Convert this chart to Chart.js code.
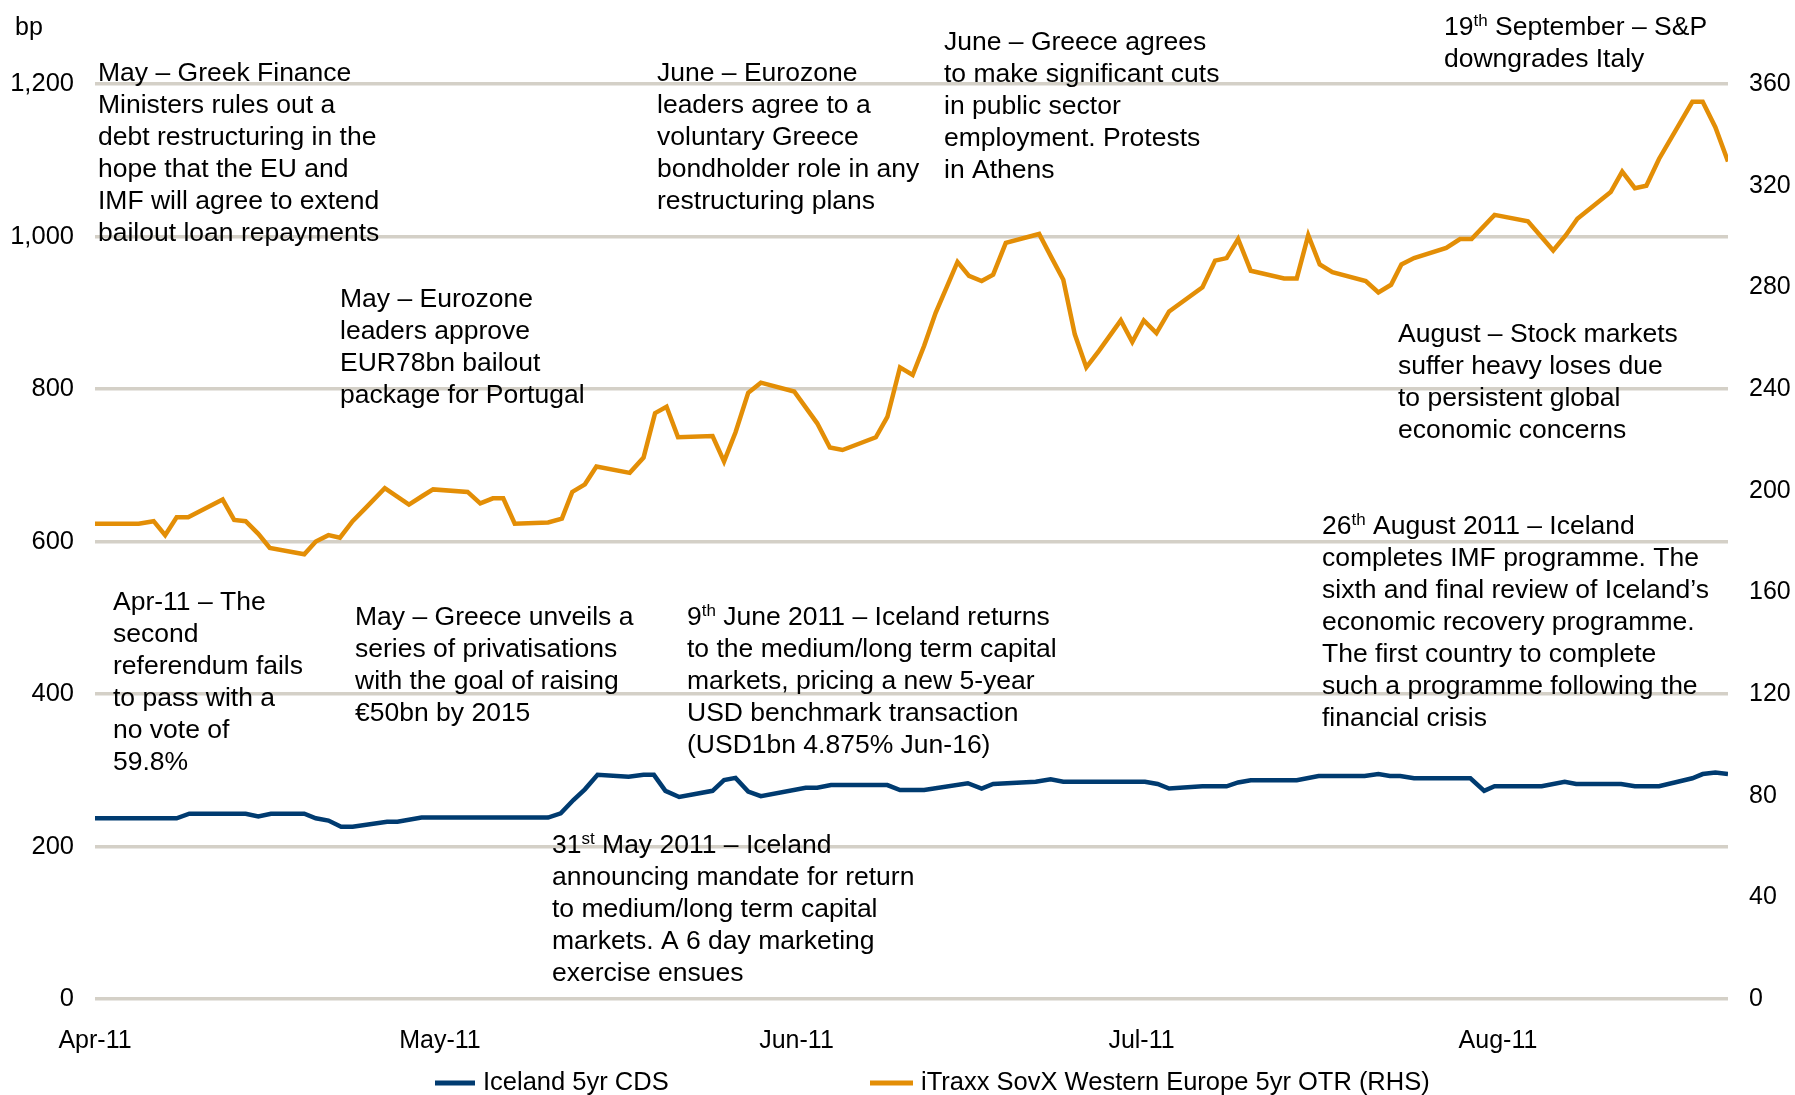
<!DOCTYPE html>
<html>
<head>
<meta charset="utf-8">
<title>Iceland 5yr CDS vs iTraxx SovX Western Europe</title>
<script src="https://cdn.jsdelivr.net/npm/chart.js@4.4.1/dist/chart.umd.min.js"></script>
<style>
  html, body { margin: 0; padding: 0; background: #fff; }
  #wrap { width: 1795px; height: 1095px; }
</style>
</head>
<body>
<div id="wrap"><canvas id="chart" width="1795" height="1095"></canvas></div>
<script>
// x values are days since 1 Apr 2011
const monthTicks = [0, 30, 61, 91, 122];
const monthLabels = ['Apr-11', 'May-11', 'Jun-11', 'Jul-11', 'Aug-11'];

// Iceland 5yr CDS (bp, left axis)
const icelandDays = [0, 7.1, 8.2, 13.1, 14.2, 15.3, 18.2, 19.2, 20.3, 21.4, 22.4, 25.4, 26.3, 28.4,
  39.4, 40.5, 41.6, 42.6, 43.7, 46.4, 47.7, 48.6, 49.6, 50.8, 53.7, 54.7, 55.7, 56.8, 57.9,
  61.8, 62.8, 64.0, 68.9, 70.0, 72.1, 75.9, 77.1, 78.1, 81.8, 83.1, 84.2, 91.3, 92.4, 93.4,
  96.3, 98.4, 99.4, 100.5, 104.5, 106.4, 110.4, 111.6, 112.6, 113.5, 114.7, 119.6, 120.8,
  121.7, 125.8, 127.8, 128.8, 132.7, 133.9, 136.0, 138.9, 139.8, 140.9, 142.0];
const icelandCds = [237, 237, 243, 243, 239.5, 243, 243, 237, 234, 226, 226, 232.5, 232.5, 238,
  238, 243.5, 261, 275, 294, 291.5, 294, 294, 273, 265, 273, 287, 290, 272, 266,
  277, 277, 280.5, 280.5, 274, 274, 283, 276, 282, 285, 288, 285, 285, 282, 276,
  279, 279, 284, 287, 287, 292.5, 292.5, 295, 292.5, 292.5, 289.5, 289.5, 273,
  279, 279, 285, 282, 282, 279, 279, 289.5, 295, 297, 295];

// iTraxx SovX Western Europe 5yr OTR (bp, right axis)
const sovxDays = [0, 3.8, 5.1, 6.1, 7.1, 8.1, 11.1, 12.1, 13.1, 14.2, 15.2, 18.2, 19.2, 20.3, 21.3,
  22.4, 23.5, 25.2, 27.3, 28.5, 29.4, 32.4, 33.5, 34.6, 35.5, 36.5, 39.4, 40.6, 41.5, 42.6,
  43.6, 46.5, 47.7, 48.7, 49.7, 50.7, 53.7, 54.7, 55.7, 56.8, 57.9, 60.8, 62.8, 63.9, 65.0,
  67.9, 68.9, 70.0, 71.1, 72.1, 73.1, 74.1, 75.0, 76.0, 77.1, 78.1, 79.2, 82.1, 83.2, 84.2,
  85.2, 86.2, 87.3, 89.2, 90.2, 91.2, 92.3, 93.4, 96.3, 97.4, 98.4, 99.4, 100.5, 103.4,
  104.5, 105.5, 106.5, 107.6, 110.5, 111.6, 112.7, 113.6, 114.7, 117.5, 118.7, 119.7, 121.7,
  124.6, 126.8, 127.9, 128.9, 131.8, 132.8, 133.9, 134.9, 136.0, 138.9, 139.8, 140.9, 142.0];
const sovxSpread = [187, 187, 188, 182.5, 189.5, 189.5, 196.5, 188.5, 188, 183, 177.5, 175, 180, 182.5, 181.5,
  188, 193, 201, 194.5, 198, 200.5, 199.5, 195, 197, 197, 187, 187.5, 189, 199.5, 202.5,
  209.5, 207, 213, 230.5, 233, 221, 221.5, 211.5, 223, 238.5, 242.5, 239, 226.5, 217, 216,
  221, 229, 248.5, 245.5, 257, 270, 280.5, 290, 284.5, 282.5, 285, 297.5, 301, 291.5, 283,
  261.5, 248.5, 255, 267, 258.5, 267, 262, 270.5, 280, 290.5, 291.5, 299, 286.5, 283.5,
  283.5, 300.5, 289, 286, 282.5, 278, 281, 289, 291.5, 295.5, 299, 299, 308.5,
  306, 294.5, 300.5, 307, 317.5, 325.5, 319, 320, 330.5, 353, 353, 343, 329.5];

const BLUE = '#003B70';
const ORANGE = '#E38E06';
const GRID = '#D4D0C7';
const FONT = "'Liberation Sans', Arial, sans-serif";

// event notes, ^{..} marks a superscript
const notes = [
  { x: 98, y: 74, lines: ['May – Greek Finance', 'Ministers rules out a', 'debt restructuring in the',
    'hope that the EU and', 'IMF will agree to extend', 'bailout loan repayments'] },
  { x: 340, y: 300, lines: ['May – Eurozone', 'leaders approve', 'EUR78bn bailout', 'package for Portugal'] },
  { x: 657, y: 74, lines: ['June – Eurozone', 'leaders agree to a', 'voluntary Greece',
    'bondholder role in any', 'restructuring plans'] },
  { x: 944, y: 43, lines: ['June – Greece agrees', 'to make significant cuts', 'in public sector',
    'employment. Protests', 'in Athens'] },
  { x: 1444, y: 28, lines: ['19^{th} September – S&P', 'downgrades Italy'] },
  { x: 1398, y: 335, lines: ['August – Stock markets', 'suffer heavy loses due', 'to persistent global',
    'economic concerns'] },
  { x: 1322, y: 527, lines: ['26^{th} August 2011 – Iceland', 'completes IMF programme. The',
    'sixth and final review of Iceland’s', 'economic recovery programme.', 'The first country to complete',
    'such a programme following the', 'financial crisis'] },
  { x: 113, y: 603, lines: ['Apr-11 – The', 'second', 'referendum fails', 'to pass with a', 'no vote of', '59.8%'] },
  { x: 355, y: 618, lines: ['May – Greece unveils a', 'series of privatisations', 'with the goal of raising',
    '€50bn by 2015'] },
  { x: 687, y: 618, lines: ['9^{th} June 2011 – Iceland returns', 'to the medium/long term capital',
    'markets, pricing a new 5-year', 'USD benchmark transaction', '(USD1bn 4.875% Jun-16)'] },
  { x: 552, y: 846, lines: ['31^{st} May 2011 – Iceland', 'announcing mandate for return',
    'to medium/long term capital', 'markets. A 6 day marketing', 'exercise ensues'] }
];

function toPoints(xs, ys) {
  return xs.map((x, i) => ({ x: x, y: ys[i] }));
}

function drawRichLine(ctx, text, x, y) {
  const parts = text.split(/\^\{([^}]*)\}/);
  let cx = x;
  parts.forEach((p, i) => {
    if (i % 2) {
      ctx.font = '17px ' + FONT;
      ctx.fillText(p, cx, y - 7);
    } else {
      ctx.font = '26.5px ' + FONT;
      ctx.fillText(p, cx, y);
    }
    cx += ctx.measureText(p).width;
  });
}

// Draws the notes, the "bp" unit label and the legend
const overlayPlugin = {
  id: 'overlay',
  afterDraw(chart) {
    const ctx = chart.ctx;
    ctx.save();
    ctx.fillStyle = '#000';
    ctx.textAlign = 'left';
    ctx.textBaseline = 'middle';

    notes.forEach(n => {
      n.lines.forEach((line, i) => drawRichLine(ctx, line, n.x, n.y + i * 32));
    });

    ctx.font = '25px ' + FONT;
    ctx.fillText('bp', 15, 28);

    // legend
    const legendY = 1083;
    const items = [{ x: 435, w: 40 }, { x: 870, w: 43 }];
    chart.data.datasets.forEach((ds, i) => {
      const it = items[i];
      ctx.strokeStyle = ds.borderColor;
      ctx.lineWidth = 5;
      ctx.beginPath();
      ctx.moveTo(it.x, legendY);
      ctx.lineTo(it.x + it.w, legendY);
      ctx.stroke();
      ctx.fillStyle = '#000';
      ctx.font = '25.5px ' + FONT;
      ctx.fillText(ds.label, it.x + it.w + 8, legendY);
    });
    ctx.restore();
  }
};

const ctx = document.getElementById('chart').getContext('2d');
new Chart(ctx, {
  type: 'line',
  data: {
    datasets: [
      {
        label: 'Iceland 5yr CDS',
        data: toPoints(icelandDays, icelandCds),
        yAxisID: 'y',
        borderColor: BLUE,
        borderWidth: 4.5,
        pointRadius: 0,
        tension: 0,
        fill: false
      },
      {
        label: 'iTraxx SovX Western Europe 5yr OTR (RHS)',
        data: toPoints(sovxDays, sovxSpread),
        yAxisID: 'y1',
        borderColor: ORANGE,
        borderWidth: 4.5,
        pointRadius: 0,
        tension: 0,
        fill: false
      }
    ]
  },
  options: {
    responsive: false,
    animation: false,
    layout: { padding: { top: 84, left: 0, right: 0, bottom: 0 } },
    plugins: {
      legend: { display: false },
      tooltip: { enabled: false }
    },
    scales: {
      x: {
        type: 'linear',
        min: 0,
        max: 142,
        afterBuildTicks: axis => { axis.ticks = monthTicks.map(v => ({ value: v })); },
        afterFit: axis => { axis.height = 96; },
        grid: { display: false, drawTicks: false },
        border: { display: false },
        ticks: {
          autoSkip: false,
          maxRotation: 0,
          padding: 27,
          color: '#000',
          font: { family: FONT, size: 25 },
          callback: value => monthLabels[monthTicks.indexOf(value)]
        }
      },
      y: {
        position: 'left',
        min: 0,
        max: 1200,
        afterFit: axis => { axis.width = 95; },
        grid: { color: GRID, lineWidth: 3.5, drawTicks: false },
        border: { display: false },
        ticks: {
          stepSize: 200,
          padding: 21,
          color: '#000',
          font: { family: FONT, size: 25.5 },
          callback: v => v.toLocaleString('en-US')
        }
      },
      y1: {
        position: 'right',
        min: 0,
        max: 360,
        afterFit: axis => { axis.width = 67; },
        grid: { display: false, drawTicks: false },
        border: { display: false },
        ticks: {
          stepSize: 40,
          padding: 21,
          color: '#000',
          font: { family: FONT, size: 25 }
        }
      }
    }
  },
  plugins: [overlayPlugin]
});
</script>
</body>
</html>
